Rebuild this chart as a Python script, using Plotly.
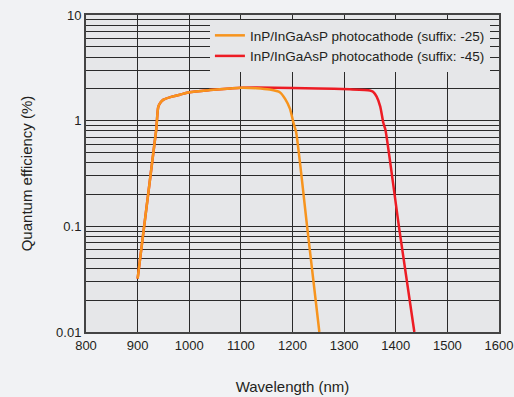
import plotly.graph_objects as go

# Data
wl_25 = [900, 936, 940, 945, 950, 965, 982, 1000, 1040, 1080, 1100, 1130, 1156, 1176, 1186, 1195, 1202, 1207, 1229, 1252]
qe_25 = [0.032, 0.82, 1.35, 1.5, 1.58, 1.68, 1.76, 1.86, 1.95, 2.02, 2.05, 2.03, 1.97, 1.85, 1.6, 1.3, 0.95, 0.78, 0.093, 0.01]

wl_45 = [900, 936, 940, 945, 950, 965, 982, 1000, 1040, 1080, 1100, 1130, 1200, 1250, 1311, 1350, 1356, 1363, 1370, 1376, 1380, 1407, 1436]
qe_45 = [0.032, 0.82, 1.35, 1.5, 1.58, 1.68, 1.76, 1.86, 1.95, 2.02, 2.05, 2.06, 2.04, 2.02, 1.98, 1.93, 1.88, 1.69, 1.36, 0.95, 0.82, 0.093, 0.01]

name_25 = "InP/InGaAsP photocathode (suffix: -25)"
name_45 = "InP/InGaAsP photocathode (suffix: -45)"

x_ticks = [800, 900, 1000, 1100, 1200, 1300, 1400, 1500, 1600]
y_grid = [m * 10 ** e for e in (-2, -1, 0) for m in range(1, 10)] + [10]
y_major = {0.01: "0.01", 0.1: "0.1", 1: "1", 10: "10"}
y_ticktext = [y_major.get(round(v, 4), "") for v in y_grid]

PAPER = "#f1f2f4"
PLOT = "#e6e7e9"
GRID = "#2a2a2a"
TEXT = "#231f20"

fig = go.Figure()
fig.add_trace(go.Scatter(x=wl_45, y=qe_45, mode="lines", name=name_45,
                         line=dict(color="#ed1c24", width=2.5, shape="spline", smoothing=0.6)))
fig.add_trace(go.Scatter(x=wl_25, y=qe_25, mode="lines", name=name_25,
                         line=dict(color="#f7941d", width=2.5, shape="spline", smoothing=0.6)))

fig.update_layout(
    width=514, height=397,
    margin=dict(l=86, r=15, t=15, b=65),
    paper_bgcolor=PAPER, plot_bgcolor=PLOT,
    font=dict(family="Liberation Sans, Arial, sans-serif", size=13, color=TEXT),
    legend=dict(x=0.978, xanchor="right", y=0.984, yanchor="top",
                bgcolor=PLOT, borderwidth=0, traceorder="reversed",
                font=dict(size=13.5, color=TEXT), tracegroupgap=0),
    xaxis=dict(range=[800, 1600], tickvals=x_ticks, ticktext=[str(v) for v in x_ticks],
               showgrid=True, gridcolor=GRID, gridwidth=1, zeroline=False,
               showline=True, linecolor="#444444", linewidth=2, mirror=True,
               ticks="", tickfont=dict(size=13), automargin=False,
               title=dict(text="Wavelength (nm)", font=dict(size=15), standoff=30)),
    yaxis=dict(type="log", range=[-2, 1], tickvals=y_grid, ticktext=y_ticktext,
               showgrid=True, gridcolor=GRID, gridwidth=1, zeroline=False,
               showline=True, linecolor="#444444", linewidth=2, mirror=True,
               ticks="", tickfont=dict(size=13), automargin=False,
               title=dict(text="Quantum efficiency (%)", font=dict(size=15), standoff=20)),
)

fig.write_html("out.html")
